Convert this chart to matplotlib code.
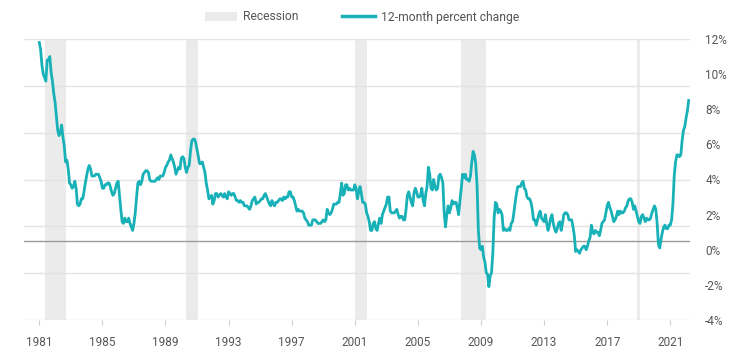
import numpy as np
import matplotlib
matplotlib.use("Agg")
import matplotlib.pyplot as plt
from matplotlib.patches import Patch
from matplotlib.lines import Line2D

plt.rcParams['font.family'] = ['Roboto', 'DejaVu Sans']

# 12-month percent change, CPI-U, monthly from Jan 1981 to Mar 2022
cpi_yoy = [
    11.8, 11.4, 10.5, 10.0, 9.8, 9.6, 10.8, 10.8, 11.0, 10.1, 9.6, 8.9,   # 1981
    8.4, 7.6, 6.8, 6.5, 6.7, 7.1, 6.4, 5.9, 5.0, 5.1, 4.6, 3.8,          # 1982
    3.7, 3.5, 3.6, 3.9, 3.5, 2.6, 2.5, 2.6, 2.9, 2.9, 3.3, 3.8,          # 1983
    4.2, 4.6, 4.8, 4.6, 4.2, 4.2, 4.2, 4.3, 4.3, 4.3, 4.1, 3.9,          # 1984
    3.5, 3.5, 3.7, 3.7, 3.8, 3.8, 3.6, 3.3, 3.1, 3.2, 3.5, 3.8,          # 1985
    3.9, 3.1, 2.3, 1.6, 1.5, 1.8, 1.6, 1.6, 1.8, 1.5, 1.3, 1.1,          # 1986
    1.5, 2.1, 3.0, 3.8, 3.9, 3.7, 3.9, 4.3, 4.4, 4.5, 4.5, 4.4,          # 1987
    4.0, 3.9, 3.9, 3.9, 3.9, 4.0, 4.1, 4.0, 4.2, 4.2, 4.2, 4.4,          # 1988
    4.7, 4.8, 5.0, 5.1, 5.4, 5.2, 5.0, 4.7, 4.3, 4.5, 4.7, 4.6,          # 1989
    5.2, 5.3, 5.2, 4.7, 4.4, 4.7, 4.8, 5.6, 6.2, 6.3, 6.3, 6.1,          # 1990
    5.7, 5.3, 4.9, 4.9, 5.0, 4.7, 4.4, 3.8, 3.4, 2.9, 3.0, 3.1,          # 1991
    2.6, 2.8, 3.2, 3.2, 3.0, 3.1, 3.2, 3.1, 3.0, 3.2, 3.0, 2.9,          # 1992
    3.3, 3.2, 3.1, 3.2, 3.2, 3.0, 2.8, 2.8, 2.7, 2.8, 2.7, 2.7,          # 1993
    2.5, 2.5, 2.5, 2.4, 2.3, 2.5, 2.8, 2.9, 3.0, 2.6, 2.7, 2.7,          # 1994
    2.8, 2.9, 2.9, 3.1, 3.2, 3.0, 2.8, 2.6, 2.5, 2.8, 2.6, 2.5,          # 1995
    2.7, 2.7, 2.8, 2.9, 2.9, 2.8, 3.0, 2.9, 3.0, 3.0, 3.3, 3.3,          # 1996
    3.0, 3.0, 2.8, 2.5, 2.2, 2.3, 2.2, 2.2, 2.2, 2.1, 1.8, 1.7,          # 1997
    1.6, 1.4, 1.4, 1.4, 1.7, 1.7, 1.7, 1.6, 1.5, 1.5, 1.5, 1.6,          # 1998
    1.7, 1.6, 1.7, 2.3, 2.1, 2.0, 2.1, 2.3, 2.6, 2.6, 2.6, 2.7,          # 1999
    2.7, 3.2, 3.8, 3.1, 3.2, 3.7, 3.7, 3.4, 3.5, 3.4, 3.4, 3.4,          # 2000
    3.7, 3.5, 2.9, 3.3, 3.6, 3.2, 2.7, 2.7, 2.6, 2.1, 1.9, 1.6,          # 2001
    1.1, 1.1, 1.5, 1.6, 1.2, 1.1, 1.5, 1.8, 1.5, 2.0, 2.2, 2.4,          # 2002
    2.6, 3.0, 3.0, 2.2, 2.1, 2.1, 2.1, 2.2, 2.3, 2.0, 1.8, 1.9,          # 2003
    1.9, 1.7, 1.7, 2.3, 3.1, 3.3, 3.0, 2.7, 2.5, 3.2, 3.5, 3.3,          # 2004
    3.0, 3.0, 3.1, 3.5, 2.8, 2.5, 3.2, 3.6, 4.7, 4.3, 3.5, 3.4,          # 2005
    4.0, 3.6, 3.4, 3.5, 4.2, 4.3, 4.1, 3.8, 2.1, 1.3, 2.0, 2.5,          # 2006
    2.1, 2.4, 2.8, 2.6, 2.7, 2.7, 2.4, 2.0, 2.8, 3.5, 4.3, 4.1,          # 2007
    4.3, 4.0, 4.0, 3.9, 4.2, 5.0, 5.6, 5.4, 4.9, 3.7, 1.1, 0.1,          # 2008
    0.0, 0.2, -0.4, -0.7, -1.3, -1.4, -2.1, -1.5, -1.3, -0.2, 1.8, 2.7,  # 2009
    2.6, 2.1, 2.3, 2.2, 2.0, 1.1, 1.2, 1.1, 1.1, 1.2, 1.1, 1.5,          # 2010
    1.6, 2.1, 2.7, 3.2, 3.6, 3.6, 3.6, 3.8, 3.9, 3.5, 3.4, 3.0,          # 2011
    2.9, 2.9, 2.7, 2.3, 1.7, 1.7, 1.4, 1.7, 2.0, 2.2, 1.8, 1.7,          # 2012
    1.6, 2.0, 1.5, 1.1, 1.4, 1.8, 2.0, 1.5, 1.2, 1.0, 1.2, 1.5,          # 2013
    1.6, 1.1, 1.5, 2.0, 2.1, 2.1, 2.0, 1.7, 1.7, 1.7, 1.3, 0.8,          # 2014
    -0.1, 0.0, -0.1, -0.2, 0.0, 0.1, 0.2, 0.2, 0.0, 0.2, 0.5, 0.7,       # 2015
    1.4, 1.0, 0.9, 1.1, 1.0, 1.0, 0.8, 1.1, 1.5, 1.6, 1.7, 2.1,          # 2016
    2.5, 2.7, 2.4, 2.2, 1.9, 1.6, 1.7, 1.9, 2.2, 2.0, 2.2, 2.1,          # 2017
    2.1, 2.2, 2.4, 2.5, 2.8, 2.9, 2.9, 2.7, 2.3, 2.5, 2.2, 1.9,          # 2018
    1.6, 1.5, 1.9, 2.0, 1.8, 1.6, 1.8, 1.7, 1.7, 1.8, 2.1, 2.3,          # 2019
    2.5, 2.3, 1.5, 0.3, 0.1, 0.6, 1.0, 1.3, 1.4, 1.2, 1.2, 1.4,          # 2020
    1.4, 1.7, 2.6, 4.2, 5.0, 5.4, 5.4, 5.3, 5.4, 6.2, 6.8, 7.0,          # 2021
    7.5, 7.9, 8.5,                                                       # 2022
]
start_year = 1981
dates = start_year + np.arange(len(cpi_yoy)) / 12.0

# Recession bands as drawn (start, end in decimal years)
recession_start = [1981.36, 1990.30, 2001.02, 2007.74, 2018.88]
recession_end = [1982.67, 1991.04, 2001.76, 2009.31, 2019.09]

x_ticks = [1981, 1985, 1989, 1993, 1997, 2001, 2005, 2009, 2013, 2017, 2021]
y_ticks = [12, 10, 8, 6, 4, 2, 0, -2, -4]
y_tick_labels = ["12%", "10%", "8%", "6%", "4%", "2%", "0%", "-2%", "-4%"]

teal = "#17b1b7"
band = "#ebebeb"
grid_c = "#e3e3e3"
text_c = "#555555"

fig = plt.figure(figsize=(7.49, 3.54), dpi=100)
ax = fig.add_axes([24 / 749, 34 / 354, 666 / 749, 281 / 354])

for s, e in zip(recession_start, recession_end):
    ax.axvspan(s, e, color=band, lw=0, zorder=0)

for g in np.linspace(-4, 12, 7):
    ax.axhline(g, color=grid_c, lw=1.0, zorder=1)
ax.axhline(0.5, color="#9a9a9a", lw=1.0, zorder=1)

ax.plot(dates, cpi_yoy, color=teal, lw=2.0, zorder=3, solid_joinstyle="round")

ax.set_xlim(1980.03, 2022.25)
ax.set_ylim(-4, 12)
for sp in ax.spines.values():
    sp.set_visible(False)

ax.set_xticks(x_ticks)
ax.set_xticklabels([str(t) for t in x_ticks])
ax.tick_params(axis="x", length=3.5, width=0.8, color="#cccccc", pad=8,
               labelsize=8.5, labelcolor=text_c)
ax.yaxis.tick_right()
ax.set_yticks(y_ticks)
ax.set_yticklabels(y_tick_labels)
ax.tick_params(axis="y", length=0, pad=11, labelsize=8.5, labelcolor=text_c)

handles = [Patch(facecolor=band, edgecolor="none"),
           Line2D([0], [0], color=teal, lw=2.5)]
leg = fig.legend(handles, ["Recession", "12-month percent change"],
                 loc="center", bbox_to_anchor=(362 / 749, 1 - 17 / 354),
                 ncol=2, frameon=False, fontsize=8.7, handlelength=2.7,
                 handleheight=0.8, columnspacing=3.6, handletextpad=0.5,
                 labelcolor=text_c)

fig.savefig("out.png", dpi=100)
